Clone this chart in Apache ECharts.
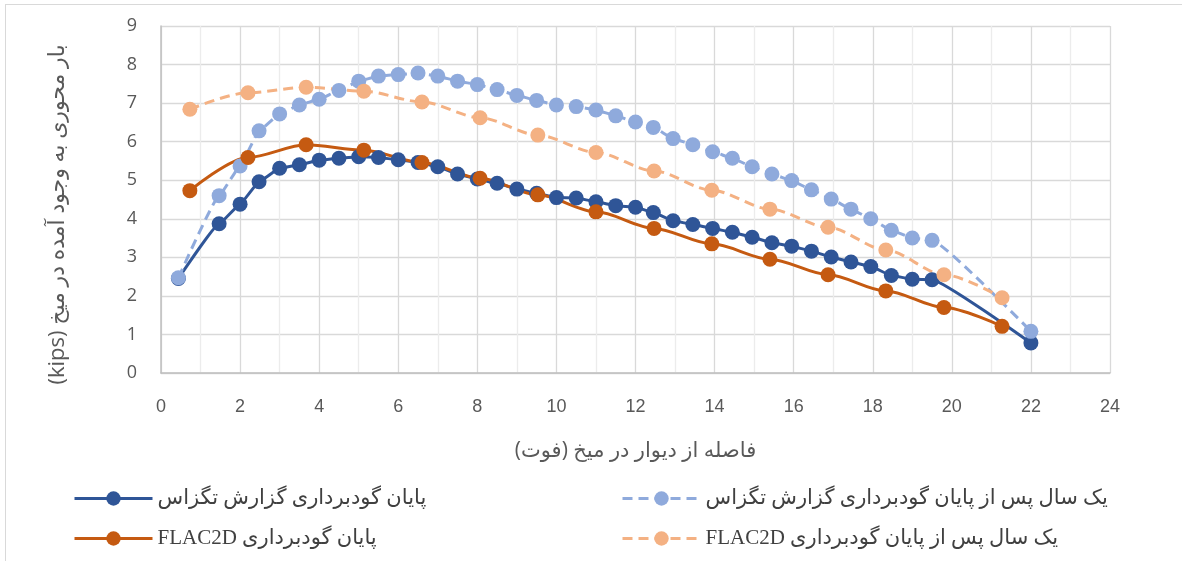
<!DOCTYPE html>
<html>
<head>
<meta charset="utf-8">
<script src="https://cdn.jsdelivr.net/npm/echarts@6/dist/echarts.min.js"></script>
<style>
    html, body { margin: 0; padding: 0; background: #ffffff; }
    .chartframe {
        position: absolute;
        left: 5px;
        top: 4px;
        width: 1177px;
        height: 557px;
        border-top: 1px solid #d9d9d9;
        border-left: 1px solid #d9d9d9;
    }
    #chartbox { position: absolute; left: 0; top: 0; width: 1182px; height: 561px; }
</style>
</head>
<body>
<div class="chartframe"></div>
<div id="chartbox" dir="rtl"></div>
<script>
// Texas report points (end of excavation and one year later share the same stations)
const txX = [0.44, 1.47, 2.0, 2.48, 3.0, 3.5, 4.0, 4.5, 5.0, 5.5, 6.0, 6.5, 7.0, 7.5, 8.0, 8.5, 9.0, 9.5, 10.0, 10.5,
    11.0, 11.5, 12.0, 12.45, 12.95, 13.45, 13.95, 14.45, 14.95, 15.45, 15.95, 16.45, 16.95, 17.45, 17.95, 18.47, 19.0, 19.5, 22.0];
const txEndY = [2.45, 3.87, 4.38, 4.96, 5.31, 5.40, 5.52, 5.57, 5.61, 5.59, 5.53, 5.46, 5.35, 5.16, 5.03, 4.92, 4.77, 4.66, 4.55, 4.54,
    4.44, 4.34, 4.30, 4.16, 3.95, 3.85, 3.75, 3.65, 3.52, 3.38, 3.29, 3.16, 3.01, 2.88, 2.76, 2.53, 2.43, 2.42, 0.78];
const txYearY = [2.47, 4.60, 5.37, 6.28, 6.72, 6.95, 7.10, 7.33, 7.57, 7.70, 7.74, 7.78, 7.70, 7.57, 7.48, 7.35, 7.20, 7.07, 6.95, 6.91,
    6.82, 6.67, 6.51, 6.37, 6.08, 5.92, 5.74, 5.57, 5.35, 5.16, 4.99, 4.75, 4.51, 4.25, 4.00, 3.70, 3.50, 3.44, 1.08];

// FLAC2D points
const flacX = [0.73, 2.2, 3.67, 5.13, 6.6, 8.07, 9.53, 11.0, 12.47, 13.93, 15.4, 16.87, 18.33, 19.8, 21.27];
const flacEndY = [4.73, 5.59, 5.92, 5.78, 5.46, 5.05, 4.62, 4.18, 3.75, 3.35, 2.95, 2.55, 2.13, 1.70, 1.21];
const flacYearY = [6.84, 7.27, 7.41, 7.31, 7.03, 6.62, 6.17, 5.72, 5.24, 4.74, 4.25, 3.78, 3.19, 2.55, 1.95];

const seriesNames = [
    "پایان گودبرداری گزارش تگزاس",
    "یک سال پس از پایان گودبرداری گزارش تگزاس",
    "پایان گودبرداری FLAC2D",
    "یک سال پس از پایان گودبرداری FLAC2D"
];
const xTitle = "فاصله از دیوار در میخ (فوت)";
const yTitle = "بار محوری به وجود آمده در میخ (kips)";

const pairs = (xs, ys) => xs.map((x, i) => [x, ys[i]]);

const labelFont = "'Open Sans', 'DejaVu Sans', sans-serif";
const legendFont = "'Liberation Serif', 'DejaVu Sans', serif";

const makeSeries = (name, data, color, dashed, smooth) => ({
    name: name,
    type: "line",
    data: data,
    smooth: smooth,
    smoothMonotone: "x",
    symbol: "circle",
    symbolSize: 15,
    showSymbol: true,
    lineStyle: {
        width: 3,
        color: color,
        type: dashed ? [10, 6] : "solid",
    },
    itemStyle: {
        color: color,
        borderWidth: 0,
    },
    emphasis: { disabled: true },
});

const legendBase = {
    orient: "vertical",
    top: 483,
    height: 78,
    itemWidth: 78,
    itemHeight: 18,
    itemGap: 19,
    lineStyle: { width: 3 },
    textStyle: { fontFamily: legendFont, fontSize: 21, color: "#404040" },
};

let chartDom = document.getElementById("chartbox");
let myChart = echarts.init(chartDom, null, { renderer: "canvas" });
let option = {
    animation: false,
    backgroundColor: "transparent",
    grid: {
        left: 161,
        right: 72,
        top: 26,
        bottom: 188,
    },
    legend: [
        Object.assign({}, legendBase, { data: [seriesNames[0], seriesNames[2]], left: 68 }),
        Object.assign({}, legendBase, { data: [seriesNames[1], seriesNames[3]], left: 616 }),
    ],
    xAxis: {
        type: "value",
        min: 0,
        max: 24,
        interval: 2,
        name: xTitle,
        nameLocation: "middle",
        nameGap: 68,
        nameTextStyle: { fontFamily: labelFont, fontSize: 21, color: "#595959" },
        axisLine: { show: true, lineStyle: { color: "#bfbfbf", width: 1.5 } },
        axisTick: { show: false },
        axisLabel: {
            margin: 25,
            fontFamily: "'Liberation Sans Narrow', 'Liberation Sans', sans-serif",
            fontSize: 18,
            color: "#595959",
        },
        splitLine: { show: true, lineStyle: { color: "#d9d9d9", width: 1.3 } },
        minorTick: { show: false, splitNumber: 2 },
        minorSplitLine: { show: true, lineStyle: { color: "#ececec", width: 1.3 } },
    },
    yAxis: {
        type: "value",
        min: 0,
        max: 9,
        interval: 1,
        name: yTitle,
        nameLocation: "middle",
        nameRotate: 90,
        nameGap: 92,
        nameTextStyle: {
            fontFamily: labelFont,
            fontSize: 22,
            color: "#595959",
            padding: [0, 30, 0, 0],
        },
        axisLine: { show: true, lineStyle: { color: "#bfbfbf", width: 1.5 } },
        axisTick: { show: false },
        axisLabel: {
            margin: 24,
            fontFamily: labelFont,
            fontSize: 18,
            color: "#595959",
        },
        splitLine: { show: true, lineStyle: { color: "#d9d9d9", width: 1.3 } },
    },
    series: [
        makeSeries(seriesNames[0], pairs(txX, txEndY), "#2F5597", false, 0.1),
        makeSeries(seriesNames[1], pairs(txX, txYearY), "#8FAADC", true, 0.1),
        makeSeries(seriesNames[2], pairs(flacX, flacEndY), "#C55A11", false, 0.3),
        makeSeries(seriesNames[3], pairs(flacX, flacYearY), "#F4B183", true, 0.3),
    ],
};
option && myChart.setOption(option);
</script>
</body>
</html>
